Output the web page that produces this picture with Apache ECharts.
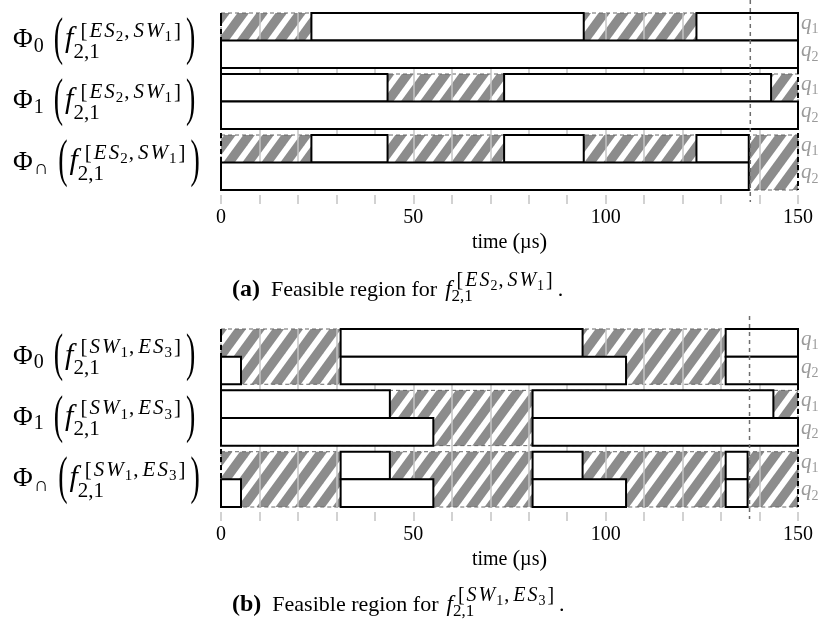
<!DOCTYPE html>
<html>
<head>
<meta charset="utf-8">
<script src="https://cdn.jsdelivr.net/npm/echarts@6/dist/echarts.min.js"></script>
<style>
html, body { margin: 0; padding: 0; background: #fff; }
#chart { width: 823px; height: 631px; }
</style>
</head>
<body>
<div id="chart"></div>
<script>
// ---------- data ----------
const timeMin = 0;
const timeMax = 150;
const labelTicks = [0, 50, 100, 150];
const gridStep = 10;

const regionNames = ['0', '1', '\u2229'];   // Φ0, Φ1, Φ∩
const queueNames = ['1', '2'];              // q1, q2

// hops of each flow: [name, index, name, index]
const flowA = ['ES', '2', 'SW', '1'];
const flowB = ['SW', '1', 'ES', '3'];

// feasible intervals (µs): [q1 intervals, q2 intervals]
const aPhi0 = [[[23.5, 94.3], [123.6, 150]], [[0, 150]]];
const aPhi1 = [[[0, 43.3], [73.6, 143]], [[0, 150]]];
const aCap  = [[[23.5, 43.3], [73.6, 94.3], [123.6, 137.2]], [[0, 137.2]]];
const aDeadline = 137.6;

const bPhi0 = [[[31.1, 94], [131.2, 150]], [[0, 5.2], [31.1, 105.3], [131.2, 150]]];
const bPhi1 = [[[0, 43.9], [81, 143.6]], [[0, 55.2], [81, 150]]];
const bCap  = [[[31.1, 43.9], [81, 94], [131.2, 136.9]], [[0, 5.2], [31.1, 55.2], [81, 105.3], [131.2, 136.9]]];
const bDeadline = 137.4;

// ---------- helpers ----------
const SERIF = '"Liberation Serif", "DejaVu Serif", serif';
const GAP = 0.22;                    // vertical gap between row groups, in row units
const Y_MAX = 3 * 2 + 2 * GAP;

const measureCtx = document.createElement('canvas').getContext('2d');
function fontOf(a) {
  return (a.it ? 'italic ' : '') + (a.b ? 'bold ' : '') + a.s + 'px ' + SERIF;
}
function widthOf(a) {
  measureCtx.font = fontOf(a);
  return measureCtx.measureText(a.t).width;
}

// Lays out a run of text atoms from (x, baseline), supporting sub/superscript stacks.
function layoutRun(items, x, base, color) {
  const els = [];
  let cx = x;
  items.forEach(a => {
    if (a.gap != null) { cx += a.gap; return; }
    if (a.sup || a.sub) {
      const sdx = a.subDx || 0;
      const up = a.sup ? layoutRun(a.sup, cx, base + a.supDy, color) : { els: [], w: 0 };
      const dn = a.sub ? layoutRun(a.sub, cx + sdx, base + a.subDy, color) : { els: [], w: 0 };
      els.push(...up.els, ...dn.els);
      cx += Math.max(up.w, dn.w + sdx);
      return;
    }
    const w = widthOf(a);
    const el = {
      type: 'text',
      x: cx,
      y: a.sy ? base + a.center : base + (a.dy || 0) - 0.3 * a.s,
      style: {
        text: a.t,
        fontSize: a.s,
        fontFamily: SERIF,
        fontStyle: a.it ? 'italic' : 'normal',
        fontWeight: a.b ? 'bold' : 'normal',
        fill: color,
        align: 'left',
        verticalAlign: 'middle'
      }
    };
    if (a.sy) { el.scaleY = a.sy; }
    els.push(el);
    cx += w + (a.after || 0);
  });
  return { els, w: cx - x };
}

// "[ES_2,SW_1]" style superscript, with loose math spacing
function hopAtoms(flow, s, ss, sp) {
  const dy = ss * 0.28;
  return [
    { t: '[', s, after: sp },
    { t: flow[0][0], s, it: true, after: sp }, { t: flow[0][1], s, it: true, after: sp * 0.5 },
    { t: flow[1], s: ss, dy, after: sp * 0.5 },
    { t: ',', s, after: sp * 2 },
    { t: flow[2][0], s, it: true, after: sp }, { t: flow[2][1], s, it: true, after: sp * 0.5 },
    { t: flow[3], s: ss, dy, after: sp },
    { t: ']', s }
  ];
}

function hatchTile() {
  const W = 19, H = 26, g = 11.5;
  const c = document.createElement('canvas');
  c.width = W; c.height = H;
  const ctx = c.getContext('2d');
  ctx.fillStyle = '#fff';
  ctx.fillRect(0, 0, W, H);
  ctx.fillStyle = '#8c8c8c';
  for (let k = -1; k <= 1; k++) {
    const x = k * W;
    ctx.beginPath();
    ctx.moveTo(x, H); ctx.lineTo(x + g, H);
    ctx.lineTo(x + g + W, 0); ctx.lineTo(x + W, 0);
    ctx.closePath(); ctx.fill();
  }
  return c;
}
const HATCH = { image: hatchTile(), repeat: 'repeat' };

function boxData(rows) {
  const out = [];
  rows.forEach((row, g) => row.forEach((ivs, q) => ivs.forEach(iv => out.push([iv[0], iv[1], g, q]))));
  return out;
}

// hatched row group with its left (Φ) label and right (q) labels
function makeHatchRender(flow) {
  return function (params, api) {
    const g = api.value(2);
    const yTop = g * (2 + GAP);
    const p0 = api.coord([api.value(0), yTop]);
    const p1 = api.coord([api.value(1), yTop + 2]);
    const cy = (p0[1] + p1[1]) / 2;
    const children = [{
      type: 'rect',
      shape: { x: p0[0], y: p0[1], width: p1[0] - p0[0], height: p1[1] - p0[1] },
      style: { fill: HATCH, stroke: '#666', lineWidth: 1, lineDash: [4, 3] }
    }];
    const base = cy + 8;
    const label = layoutRun([
      { t: '\u03A6', s: 27, after: 1 },
      { t: regionNames[g], s: 20, dy: 4 },
      { gap: 10 },
      { t: '(', s: 28, sy: 1.85, center: -8 },
      { gap: 2 },
      { t: 'f', s: 30, it: true },
      { gap: 7 },
      { sup: hopAtoms(flow, 21, 15, 2), sub: [{ t: '2,1', s: 21 }], supDy: -11, subDy: 10, subDx: -7 },
      { gap: 5 },
      { t: ')', s: 28, sy: 1.85, center: -8 }
    ], p0[0] - 208, base, '#000');
    children.push(...label.els);
    queueNames.forEach((qn, q) => {
      const c = api.coord([api.value(1), yTop + q + 0.5]);
      const ql = layoutRun([{ t: 'q', s: 21, it: true }, { t: qn, s: 14, dy: 4 }], c[0] + 3, c[1] + 3, '#9a9a9a');
      children.push(...ql.els);
    });
    return { type: 'group', children };
  };
}

function renderBox(params, api) {
  const g = api.value(2), q = api.value(3);
  const y0 = g * (2 + GAP) + q;
  const p0 = api.coord([api.value(0), y0]);
  const p1 = api.coord([api.value(1), y0 + 1]);
  return {
    type: 'rect',
    shape: { x: p0[0], y: p0[1], width: p1[0] - p0[0], height: p1[1] - p0[1] },
    style: { fill: '#fff', stroke: '#000', lineWidth: 2 }
  };
}

function renderFrame(params, api) {
  const a = api.coord([api.value(0), 0]);
  const b = api.coord([api.value(0), Y_MAX]);
  return {
    type: 'line',
    shape: { x1: a[0], y1: a[1], x2: b[0], y2: b[1] },
    style: { stroke: '#000', lineWidth: 2, lineDash: [5, 3] }
  };
}

function renderDeadline(params, api) {
  const a = api.coord([api.value(0), 0]);
  const b = api.coord([api.value(0), Y_MAX]);
  return {
    type: 'line',
    shape: { x1: a[0], y1: a[1] - 13, x2: b[0], y2: b[1] + 12 },
    style: { stroke: '#6e6e6e', lineWidth: 1.5, lineDash: [4, 4] }
  };
}

function axesFor(gridIndex) {
  return [{
    gridIndex, type: 'value', position: 'bottom', min: timeMin, max: timeMax, interval: 50,
    offset: 5, z: 5,
    axisLine: { show: false },
    axisTick: { show: true, customValues: [timeMin, timeMax], length: 9, lineStyle: { color: '#000', width: 2 } },
    axisLabel: { customValues: labelTicks, fontFamily: SERIF, fontSize: 20, color: '#000', margin: 13 },
    splitLine: { show: false },
    name: '{t|time }{p|(}{t|\u00B5s}{p|)}', nameLocation: 'middle', nameGap: 36,
    nameTextStyle: {
      fontFamily: SERIF, fontSize: 20, color: '#000',
      rich: {
        t: { fontFamily: SERIF, fontSize: 20, color: '#000' },
        p: { fontFamily: SERIF, fontSize: 23, color: '#000' }
      }
    }
  }, {
    gridIndex, type: 'value', position: 'bottom', min: timeMin, max: timeMax, interval: gridStep,
    offset: 5, z: 1.5,
    axisLine: { show: false },
    axisTick: { show: true, length: 9, lineStyle: { color: '#c4c4c4', width: 1.5 } },
    axisLabel: { show: false },
    splitLine: { show: true, showMinLine: false, showMaxLine: false, lineStyle: { color: '#c4c4c4', width: 1.5 } }
  }];
}

function seriesFor(panel, rows, flow, deadline) {
  const xi = panel * 2, yi = panel;
  return [{
    type: 'custom', xAxisIndex: xi, yAxisIndex: yi, z: 1,
    renderItem: makeHatchRender(flow),
    encode: { x: [0, 1] },
    data: rows.map((r, g) => [timeMin, timeMax, g])
  }, {
    type: 'custom', xAxisIndex: xi, yAxisIndex: yi, z: 2,
    renderItem: renderFrame, encode: { x: 0 },
    data: [[timeMin], [timeMax]]
  }, {
    type: 'custom', xAxisIndex: xi, yAxisIndex: yi, z: 3,
    renderItem: renderBox, encode: { x: [0, 1] },
    data: boxData(rows)
  }, {
    type: 'custom', xAxisIndex: xi, yAxisIndex: yi, z: 4,
    renderItem: renderDeadline, encode: { x: 0 },
    data: [[deadline]]
  }];
}

function caption(tag, flow, x, base) {
  return layoutRun([
    { t: tag, s: 24, b: true }, { gap: 11 },
    { t: 'Feasible region for', s: 22 }, { gap: 8 },
    { t: 'f', s: 23, it: true }, { gap: 5 },
    { sup: hopAtoms(flow, 20, 14, 2), sub: [{ t: '2,1', s: 17 }], supDy: -10, subDy: 5, subDx: -5 },
    { gap: 5 }, { t: '.', s: 22 }
  ], x, base, '#000').els;
}

const chart = echarts.init(document.getElementById('chart'));
chart.setOption({
  animation: false,
  backgroundColor: '#fff',
  grid: [
    { left: 221, width: 577, top: 13, height: 177 },
    { left: 221, width: 577, top: 329, height: 178 }
  ],
  xAxis: [...axesFor(0), ...axesFor(1)],
  yAxis: [0, 1].map(gridIndex => ({ gridIndex, type: 'value', min: 0, max: Y_MAX, inverse: true, show: false })),
  series: [
    ...seriesFor(0, [aPhi0, aPhi1, aCap], flowA, aDeadline),
    ...seriesFor(1, [bPhi0, bPhi1, bCap], flowB, bDeadline)
  ],
  graphic: [
    { type: 'group', children: caption('(a)', flowA, 232, 297) },
    { type: 'group', children: caption('(b)', flowB, 232, 612) }
  ]
});
</script>
</body>
</html>
